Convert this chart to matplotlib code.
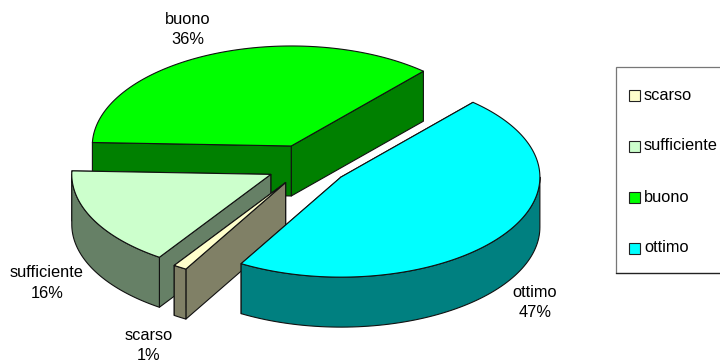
import numpy as np
import matplotlib
matplotlib.use("Agg")
import matplotlib.pyplot as plt
from matplotlib.colors import to_rgb
from matplotlib.patches import Polygon, Rectangle

plt.rcParams['font.family'] = ['Liberation Sans', 'DejaVu Sans']

# data, in legend order (percentages)
labels = ['scarso', 'sufficiente', 'buono', 'ottimo']
values = [1.1, 16.1, 36.0, 46.8]
colors = ['#FFFFCC', '#CCFFCC', '#00FF00', '#00FFFF']

# pie geometry, axes are set up in pixels
cx, cy = 307.5, 165
rx, ry = 199, 100
depth = 50
explode = 0.207
start = 48.4   # angle where ottimo begins, then going clockwise

fig = plt.figure(figsize=(7.2, 3.63), dpi=100)
ax = fig.add_axes([0, 0, 1, 1])
ax.set_xlim(0, 720)
ax.set_ylim(363, 0)
ax.axis('off')

# slices clockwise from start: ottimo, scarso, sufficiente, buono
order = [3, 0, 1, 2]
angles = {}
a = start
for i in order:
    sweep = values[i] / sum(values) * 360
    angles[i] = (a, a - sweep)
    a -= sweep


def pt(c, ang):
    t = np.radians(ang)
    return c[0] + rx * np.cos(t), c[1] - ry * np.sin(t)


def face(pts, col, z):
    ax.add_patch(Polygon(pts, closed=True, facecolor=col, edgecolor='#111111',
                         linewidth=0.8, joinstyle='round', zorder=z))


def draw_slice(i, z):
    a0, a1 = angles[i]
    mid = np.radians((a0 + a1) / 2)
    c = (cx + explode * rx * np.cos(mid), cy - explode * ry * np.sin(mid))
    top = colors[i]
    wall = tuple(0.5 * v for v in to_rgb(top))

    # radial walls, the one further back first
    for ang in sorted([a0, a1], key=lambda q: pt(c, q)[1]):
        p = pt(c, ang)
        face([c, p, (p[0], p[1] + depth), (c[0], c[1] + depth)], wall, z)

    # outer wall, only the part that faces the viewer
    for k in range(-2, 2):
        l2 = max(a1, -180 + 360 * k)
        h2 = min(a0, 360 * k)
        if h2 > l2:
            up = [pt(c, q) for q in np.linspace(h2, l2, 80)]
            down = [(x, y + depth) for x, y in up]
            face(up + down[::-1], wall, z + 0.1)

    arc = np.linspace(a0, a1, 160)
    face([c] + [pt(c, q) for q in arc], top, z + 0.2)


# back to front
for z, i in enumerate([2, 1, 0, 3]):
    draw_slice(i, z + 1)

# data labels
fs = 11.8
lab_pos = {0: (149, 345.5), 1: (47, 283), 2: (188, 29.5), 3: (535, 302.5)}
for i, name in enumerate(labels):
    ax.text(lab_pos[i][0], lab_pos[i][1], '%s\n%.0f%%' % (name, values[i]),
            ha='center', va='center', fontsize=fs, color='black',
            linespacing=1.45, zorder=10)

# legend box, runs off the right side of the picture
ax.add_patch(Rectangle((616, 67), 120, 206, facecolor='white', edgecolor='#777777',
                       linewidth=0.9, zorder=5))
ax.plot([616, 720], [273, 273], color='#222222', linewidth=0.9, zorder=6)
for i, name in enumerate(labels):
    y = 95 + 51 * i
    ax.add_patch(Rectangle((629, y - 5.5), 11, 11, facecolor=colors[i],
                           edgecolor='#222222', linewidth=0.8, zorder=6))
    ax.text(644, y, name, ha='left', va='center', fontsize=fs, color='black', zorder=6)

fig.savefig('out.png', dpi=100)
